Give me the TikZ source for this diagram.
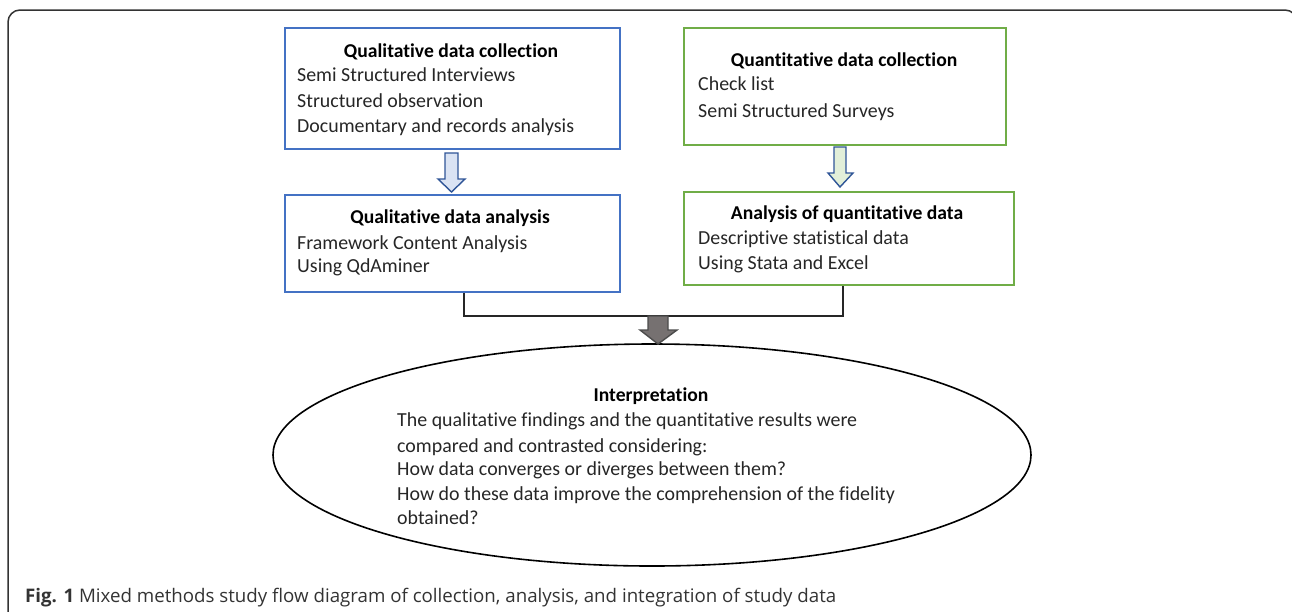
\documentclass[tikz,border=0pt]{standalone}
\usepackage{fontspec}
\setmainfont{Carlito}[Ligatures=NoCommon]
\newfontfamily\capfont{Open Sans}
\usetikzlibrary{calc,shapes.geometric}
\definecolor{qblue}{HTML}{4472C4}
\definecolor{qgreen}{HTML}{70AD47}
\definecolor{arrblue}{HTML}{DAE3F3}
\definecolor{arrgreen}{HTML}{E2EFD9}
\definecolor{arredge}{HTML}{2F5597}
\definecolor{arrgray}{HTML}{767171}
\definecolor{frame}{HTML}{333333}
\tikzset{
  bluebox/.style={draw=qblue, line width=1.6pt, inner sep=0pt},
  greenbox/.style={draw=qgreen, line width=1.6pt, inner sep=0pt},
  ttl/.style={font=\fontsize{19.6}{22}\selectfont\bfseries, inner sep=0pt, anchor=mid, yshift=-4pt},
  body/.style={font=\fontsize{19.9}{22}\selectfont, inner sep=0pt, anchor=mid west, text=black!85, yshift=-4pt},
  link/.style={draw=black!85, line width=1.5pt},
  blockarr/.style={line width=1.4pt, line join=miter},
}
\begin{document}
\begin{tikzpicture}[x=1pt,y=-1pt]
\useasboundingbox (0,0) rectangle (1292,611);
\clip (0,0) rectangle (1292,611);
% outer frame
\draw[frame, line width=1.5pt, rounded corners=12pt] (8,640) -- (8,10) -- (1297,10) -- (1297,640);

% boxes
\node[bluebox, minimum width=335pt, minimum height=121pt] (qc) at (452.5,88.5) {};
\node[greenbox, minimum width=322pt, minimum height=117pt] (nc) at (845,86.5) {};
\node[bluebox, minimum width=335pt, minimum height=97pt] (qa) at (452.5,243.5) {};
\node[greenbox, minimum width=330pt, minimum height=93pt] (na) at (849,238.5) {};
\node[draw=black, line width=1.6pt, ellipse, minimum width=758pt, minimum height=222pt, inner sep=0pt] (ip) at (652,455) {};

% texts
\node[ttl] (qct) at (451,51) {Qualitative data collection};
\node[body] (qc1) at (297,75) {Semi Structured Interviews};
\node[body] (qc2) at (297,101) {Structured observation};
\node[body] (qc3) at (297,126) {Documentary and records analysis};

\node[ttl] (nct) at (844,60) {Quantitative data collection};
\node[body] (nc1) at (698,84) {Check list};
\node[body] (nc2) at (698,111) {Semi Structured Surveys};

\node[ttl] (qat) at (450,217) {Qualitative data analysis};
\node[body] (qa1) at (297,243) {Framework Content Analysis};
\node[body] (qa2) at (297,266) {Using QdAminer};

\node[ttl] (nat) at (847,213) {Analysis of quantitative data};
\node[body] (na1) at (698,238) {Descriptive statistical data};
\node[body] (na2) at (698,263) {Using Stata and Excel};

\node[ttl] (ipt) at (651,395) {Interpretation};
\node[body] (ip1) at (397,420) {The qualitative findings and the quantitative results were};
\node[body] (ip2) at (397,446) {compared and contrasted considering:};
\node[body] (ip3) at (397,469) {How data converges or diverges between them?};
\node[body] (ip4) at (397,494) {How do these data improve the comprehension of the fidelity};
\node[body] (ip5) at (397,518) {obtained?};

% block arrows
\draw[blockarr, draw=arredge, fill=arrblue] (445,153) -- (458,153) -- (458,179) -- (465,179) -- (451.5,192) -- (438,179) -- (445,179) -- cycle;
\draw[blockarr, draw=arredge, fill=arrgreen] (834,147) -- (846,147) -- (846,173) -- (853,173) -- (840,187) -- (828,173) -- (834,173) -- cycle;

% joining connector
\coordinate (jl) at (464,316);
\coordinate (jr) at (843,316);
\draw[link] (qa.south -| jl) -- (jl) -- (jr) -- (na.south -| jr);
\draw[blockarr, draw=black!70, fill=arrgray] (648,316) -- (668,316) -- (668,330) -- (677,330) -- (658,344) -- (640,330) -- (648,330) -- cycle;

% caption
\node[font=\capfont\fontsize{18.7}{22}\selectfont, inner sep=0pt, anchor=mid west, text=black!80] (cap) at (25,600) {\textbf{Fig. 1} Mixed methods study flow diagram of collection, analysis, and integration of study data};
\end{tikzpicture}
\end{document}
